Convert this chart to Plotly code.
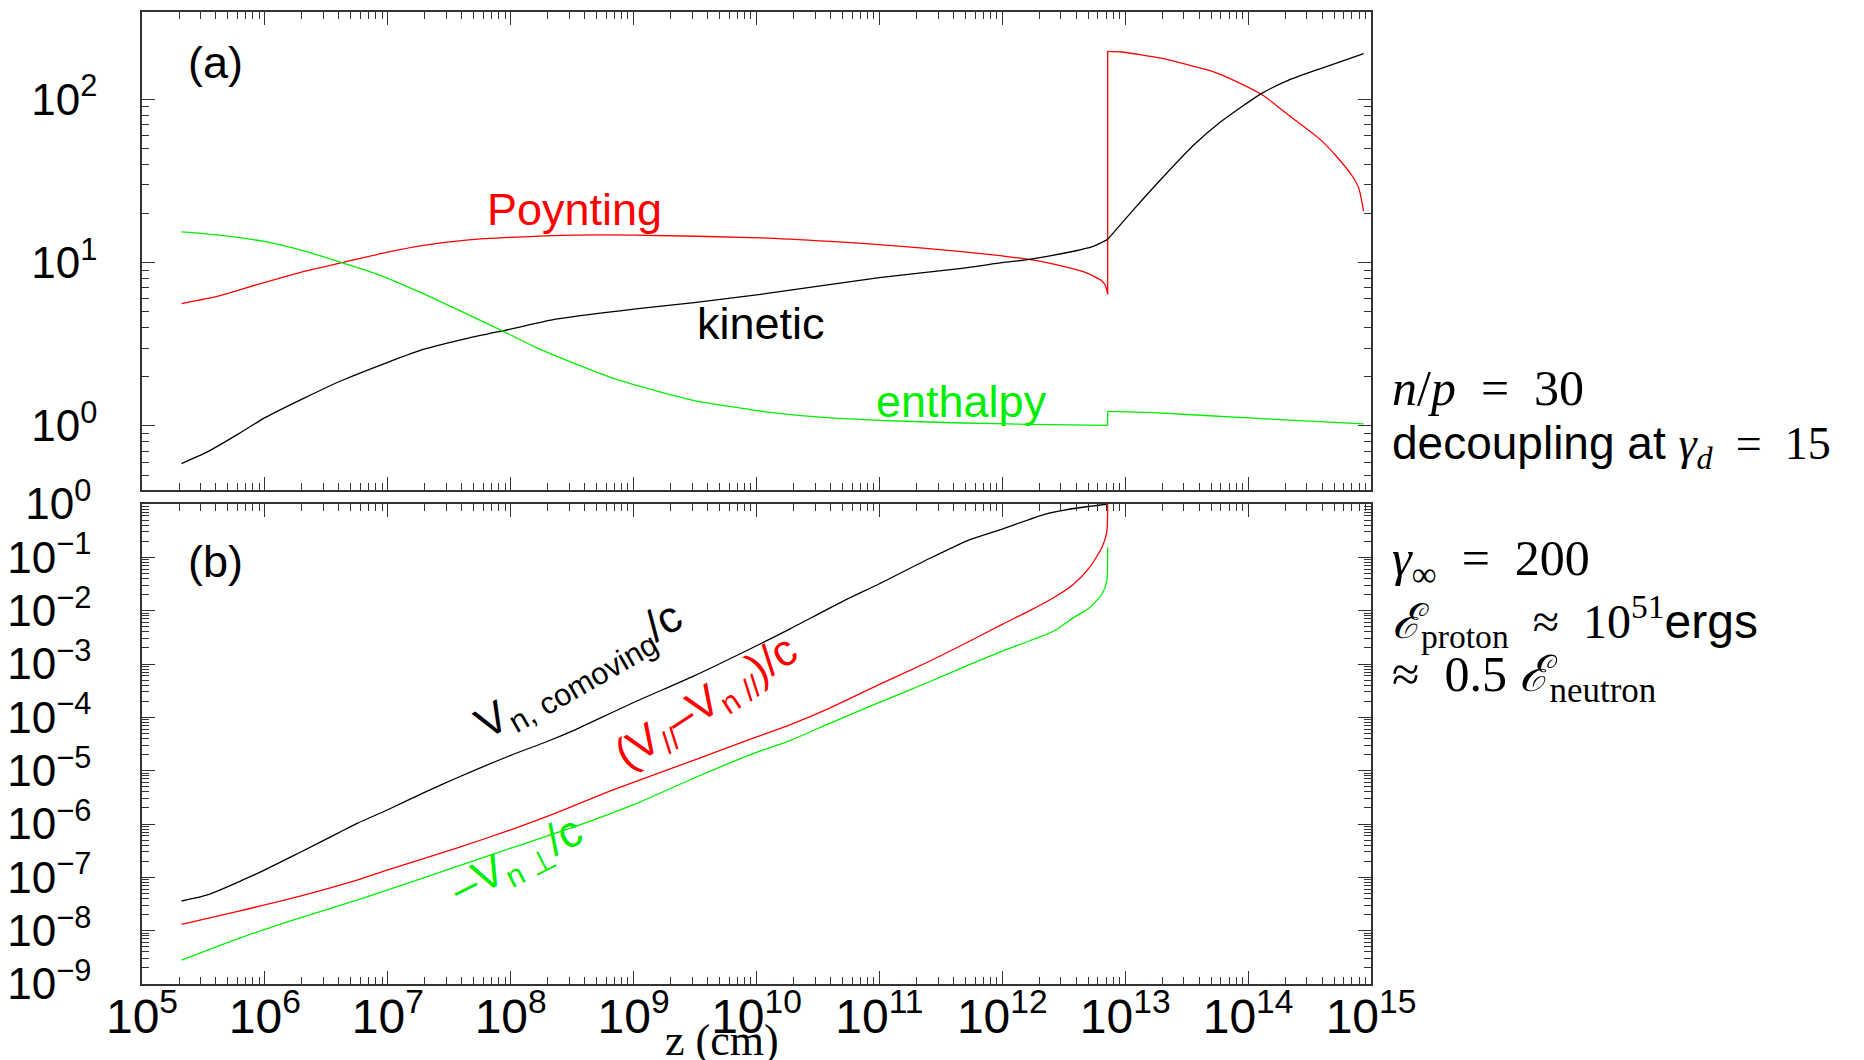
import plotly.graph_objects as go

# ---------------- data ----------------
# Panel (a): energy fluxes vs z (cm); each curve split at the jump near z = 7.2e12 cm
z_kinetic_pre = [2.10e5, 3.40e5, 6.15e5, 1e6, 2.17e6, 4.23e6, 1e7, 2.01e7, 4.54e7, 1e8, 2.32e8,
                 1e9, 3.11e9, 1.08e10, 1e11, 4.68e11, 1e12, 1.66e12, 3.31e12, 5.50e12, 7.2e12]
kinetic_pre = [0.589, 0.694, 0.898, 1.124, 1.503, 1.899, 2.455, 2.962, 3.45, 3.92, 4.51,
               5.19, 5.70, 6.40, 8.10, 9.23, 10.0, 10.48, 11.5, 12.6, 13.9]
z_kinetic_post = [7.2e12, 1.20e13, 2.0e13, 3.63e13, 6.03e13, 1.29e14, 2.14e14, 3.89e14, 8.71e14]
kinetic_post = [13.9, 21.6, 33.0, 52.7, 73.1, 108.8, 131, 154.5, 190.7]

z_poynting_pre = [2.10e5, 4.25e5, 8.91e5, 2.17e6, 4.23e6, 1e7, 2.01e7, 4.54e7, 1e8, 3.37e8, 1e9,
                  1.08e10, 3.98e10, 1e11, 4.68e11, 1e12, 1.66e12, 3.02e12, 4.79e12, 6.46e12,
                  6.92e12, 7.2e12]
poynting_pre = [5.62, 6.26, 7.38, 8.9, 10.0, 11.6, 12.8, 13.8, 14.3, 14.75, 14.75,
                14.2, 13.5, 12.9, 11.7, 11.0, 10.48, 9.55, 8.69, 7.73,
                7.2, 6.41]
z_poynting_post = [7.2e12, 9.33e12, 2.0e13, 3.31e13, 5.25e13, 8.71e13, 1.32e14, 2.14e14,
                   3.89e14, 5.25e14, 7.08e14, 7.94e14, 8.71e14]
poynting_post = [197, 195, 178, 162, 147.5, 125, 106, 80,
                 56.5, 44.7, 33.7, 28.7, 20.7]

z_enthalpy_pre = [2.10e5, 4.25e5, 1.03e6, 2.17e6, 4.23e6, 8.24e6, 1.73e7, 3.63e7, 8.71e7, 1.60e8,
                  3.37e8, 7.06e8, 1.48e9, 3.11e9, 8.93e9, 1.29e10, 3.98e10, 1e11, 4.68e11,
                  1.66e12, 7.2e12]
enthalpy_pre = [15.45, 14.75, 13.4, 11.7, 10.0, 8.49, 6.72, 5.19, 3.80, 3.03,
                2.40, 1.94, 1.65, 1.43, 1.26, 1.21, 1.12, 1.083, 1.043,
                1.024, 1.01]
z_enthalpy_post = [7.2e12, 1.58e13, 1e14, 8.71e14]
enthalpy_post = [1.23, 1.21, 1.12, 1.03]

# Panel (b): velocities / c
z_vcom = [2.10e5, 3.40e5, 6.62e5, 1e6, 1.87e6, 3.93e6, 5.69e6, 1e7, 2.01e7, 3.63e7, 1e8, 2.0e8,
          3.37e8, 1e9, 3.11e9, 1.08e10, 1.89e10, 4.99e10, 1e11, 2.58e11, 5.46e11, 1e12, 2.24e12,
          4.07e12, 7.2e12]
vcom = [3.60e-8, 4.67e-8, 8.93e-8, 1.38e-7, 2.83e-7, 6.73e-7, 1.04e-6, 1.85e-6, 3.97e-6, 7.28e-6,
        1.94e-5, 3.56e-5, 5.90e-5, 1.90e-4, 6.0e-4, 2.4e-3, 4.6e-3, 0.0148, 0.032, 0.096,
        0.215, 0.339, 0.649, 0.841, 1.0]

z_vpar = [2.10e5, 6.15e5, 1.87e6, 5.69e6, 1e7, 3.63e7, 1e8, 2.32e8, 7.06e8, 3.11e9, 8.93e9,
          1.89e10, 3.98e10, 1e11, 2.58e11, 5.46e11, 1e12, 1.66e12, 2.63e12, 3.80e12, 5.13e12,
          6.46e12, 7.08e12, 7.2e12]
vpar = [1.31e-8, 2.33e-8, 4.35e-8, 8.93e-8, 1.38e-7, 3.52e-7, 7.78e-7, 1.60e-6, 4.5e-6, 1.58e-5,
        3.9e-5, 7.33e-5, 1.51e-4, 4.14e-4, 1.14e-3, 2.70e-3, 5.55e-3, 9.89e-3, 0.0176, 0.0313,
        0.0646, 0.153, 0.293, 1.0]

z_vperp = [2.10e5, 6.15e5, 1.87e6, 5.69e6, 1e7, 3.63e7, 1e8, 3.37e8, 1e9, 3.11e9, 8.93e9,
           1.89e10, 3.98e10, 1e11, 2.58e11, 5.46e11, 1e12, 1.66e12, 2.63e12, 3.80e12, 5.13e12,
           6.46e12, 7.08e12, 7.2e12]
vperp = [2.80e-9, 7.16e-9, 1.70e-8, 3.76e-8, 5.79e-8, 1.59e-7, 3.52e-7, 8.99e-7, 2.30e-6, 7.28e-6,
         2.0e-5, 3.7e-5, 7.8e-5, 1.9e-4, 4.7e-4, 9.82e-4, 1.75e-3, 2.70e-3, 4.16e-3, 7.41e-3,
         0.0114, 0.0203, 0.0362, 0.153]

x_tick_exp = list(range(5, 16))
ya_tick_exp = [0, 1, 2]
yb_tick_exp = list(range(-9, 1))

# ---------------- layout helpers ----------------
W, H = 1864, 1060
L, R, T, B = 141.5, 1370.7, 12, 984
A_BOT, B_TOP = 490, 504


def px(x):
    return (x - L) / (R - L)


def py(y):
    return (B - y) / (B - T)


def sup_label(e):
    s = str(e).replace("-", "\u2212")
    return f"10<sup>{s}</sup>"


def minor_vals(lo, hi):
    out = []
    for n in range(lo, hi):
        for k in range(2, 10):
            out.append(k * 10.0 ** n)
    return out


RED, GREEN, BLACK = "#ff0000", "#00ee00", "#000000"
LW = 1.3
SANS = "Liberation Sans, Arial, Helvetica"
SERIF = "Liberation Serif, DejaVu Serif, serif"
EN = "\u2002"

fig = go.Figure()


def line(x, y, color, xa, ya, smooth=True):
    fig.add_trace(go.Scatter(
        x=x, y=y, mode="lines", xaxis=xa, yaxis=ya, showlegend=False, hoverinfo="skip",
        line=dict(color=color, width=LW, shape="spline" if smooth else "linear",
                  smoothing=0.6 if smooth else None)))


# panel (a) traces
line(z_poynting_pre, poynting_pre, RED, "x2", "y2")
line([z_poynting_pre[-1], z_poynting_post[0]], [poynting_pre[-1], poynting_post[0]], RED, "x2", "y2", False)
line(z_poynting_post, poynting_post, RED, "x2", "y2")
line(z_kinetic_pre, kinetic_pre, BLACK, "x2", "y2")
line(z_kinetic_post, kinetic_post, BLACK, "x2", "y2")
line(z_enthalpy_pre, enthalpy_pre, GREEN, "x2", "y2")
line([z_enthalpy_pre[-1], z_enthalpy_post[0]], [enthalpy_pre[-1], enthalpy_post[0]], GREEN, "x2", "y2", False)
line(z_enthalpy_post, enthalpy_post, GREEN, "x2", "y2")
# panel (b) traces
line(z_vcom, vcom, BLACK, "x", "y")
line(z_vpar, vpar, RED, "x", "y")
line(z_vperp, vperp, GREEN, "x", "y")

common = dict(type="log", showgrid=False, zeroline=False, showline=True, linecolor="#333",
              linewidth=1.5, mirror="ticks", ticks="inside", ticklen=13, tickwidth=1.2,
              tickcolor="#333", tickmode="array", automargin=False)

xvals = [10.0 ** e for e in x_tick_exp]
xtext = [sup_label(e) for e in x_tick_exp]
xminor = dict(ticks="inside", ticklen=7, tickwidth=1.1, tickcolor="#333", showgrid=False,
              tickmode="array", tickvals=minor_vals(5, 15))

fig.update_layout(
    width=W, height=H, autosize=False,
    margin=dict(l=L, r=W - R, t=T, b=H - B, pad=0, autoexpand=False),
    paper_bgcolor="white", plot_bgcolor="white",
    xaxis=dict(common, domain=[0, 1], anchor="y", range=[5, 15], tickvals=xvals, ticktext=xtext,
               minor=xminor, ticklabelstandoff=-10,
               tickfont=dict(family=SANS, size=48, color="black")),
    yaxis=dict(common, domain=[0, py(B_TOP)], anchor="x", range=[-9, 0],
               tickvals=[10.0 ** e for e in yb_tick_exp], ticktext=[sup_label(e) for e in yb_tick_exp],
               minor=dict(ticks="inside", ticklen=7, tickwidth=1.1, tickcolor="#333", showgrid=False,
                          tickmode="array", tickvals=minor_vals(-9, 0)),
               ticklabelstandoff=40, tickfont=dict(family=SANS, size=44, color="black")),
    xaxis2=dict(common, domain=[0, 1], anchor="y2", range=[5, 15], matches="x", tickvals=xvals,
                ticktext=xtext, showticklabels=False, minor=xminor),
    yaxis2=dict(common, domain=[py(A_BOT), 1], anchor="x2", range=[-0.392, 2.535],
                tickvals=[10.0 ** e for e in ya_tick_exp], ticktext=[sup_label(e) for e in ya_tick_exp],
                minor=dict(ticks="inside", ticklen=7, tickwidth=1.1, tickcolor="#333", showgrid=False,
                           tickmode="array", tickvals=minor_vals(-1, 2)),
                ticklabelstandoff=34, tickfont=dict(family=SANS, size=44, color="black")),
)


def ann(x, y, text, size, color="black", family=SANS, angle=0, xanchor="center", yanchor="middle"):
    fig.add_annotation(x=px(x), y=py(y), xref="paper", yref="paper", text=text, showarrow=False,
                       font=dict(family=family, size=size, color=color), textangle=angle,
                       xanchor=xanchor, yanchor=yanchor)


# panel labels
ann(215, 62, "(a)", 45)
ann(215, 561, "(b)", 45)
ann(574, 209, "Poynting", 45, RED)
ann(761, 323, "kinetic", 45, BLACK)
ann(961, 401, "enthalpy", 45, GREEN)

# panel (b) rotated labels
ann(580, 672, "V<sub>n, comoving</sub>/c", 44, BLACK, angle=-30)
ann(707, 704, "(V<sub>//</sub>\u2013V<sub>n //</sub>)/c", 44, RED, angle=-33)
ann(517, 862, "\u2013V<sub>n \u22a5</sub>/c", 44, GREEN, angle=-27)

# x-axis title
ann(722, 1040, "z (cm)", 44, family=SERIF)


# right-side parameter text
def serif(t):
    return f'<span style="font-family:{SERIF}">{t}</span>'


ann(1390, 388, serif(f"<i>n</i>/<i>p</i>{EN}={EN}30"), 50, xanchor="left")
ann(1390, 446, "decoupling at " + serif(f"<i>\u03b3<sub>d</sub></i>{EN}={EN}15"), 46, xanchor="left")
ann(1390, 562, serif(f"<i>\u03b3</i><sub>\u221e</sub>{EN}={EN}200"), 50, xanchor="left")
ann(1390, 621, serif(f"<i>\u2130</i><sub>proton</sub>{EN}\u2248{EN}10<sup>51</sup>") + "ergs", 48,
    xanchor="left")
ann(1390, 678, serif(f"\u2248{EN}0.5 <i>\u2130</i><sub>neutron</sub>"), 50, xanchor="left")

fig.write_html("out.html", config={"displayModeBar": False},
               post_script="document.body.style.margin='0px';")
